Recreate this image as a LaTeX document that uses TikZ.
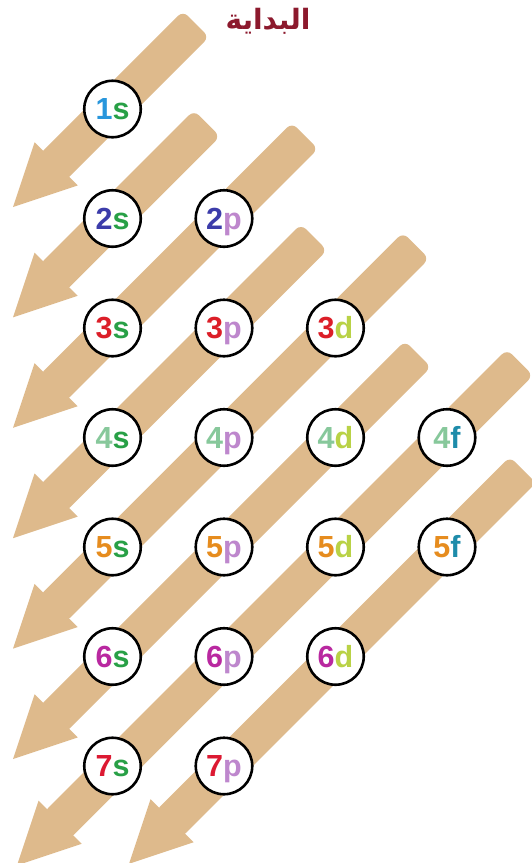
\documentclass[tikz,border=0pt]{standalone}
\usepackage{fontspec}
\setmainfont{Liberation Sans}
\newfontfamily\arabicfont[Script=Arabic]{DejaVu Sans}
\TeXXeTstate=1
\definecolor{band}{RGB}{222,186,140}
\definecolor{titlecol}{RGB}{140,25,45}
\definecolor{cone}{RGB}{40,150,220}
\definecolor{cs}{RGB}{40,160,70}
\definecolor{ctwo}{RGB}{60,60,170}
\definecolor{cp}{RGB}{190,135,205}
\definecolor{cthree}{RGB}{220,30,40}
\definecolor{cd}{RGB}{185,210,70}
\definecolor{cfour}{RGB}{135,200,155}
\definecolor{cf}{RGB}{30,140,170}
\definecolor{cfive}{RGB}{230,140,30}
\definecolor{csix}{RGB}{185,40,160}
\definecolor{cseven}{RGB}{220,25,50}
\tikzset{
  orb/.style={circle,draw=black,line width=2.6pt,fill=white,minimum size=56.5pt,
    inner sep=0pt,text height=21.5pt,text depth=0pt,
    font=\fontsize{30.5}{30.5}\selectfont\bfseries},
  bandfill/.style={fill=band}
}
% #1 line sum (x+y), #2 tip x, #3 tail x
\newcommand{\bandarrow}[3]{%
  \pgfmathsetmacro\tipy{#1-#2}%
  \pgfmathsetmacro\blen{(#3-#2)*1.41421356}%
  \begin{scope}[shift={(#2,\tipy)},rotate=45]
    \fill[bandfill] (0,0) -- (61,30.5) -- (61,-30.5) -- cycle;
    \fill[bandfill,rounded corners=7pt] (55,-18.5) rectangle (\blen,18.5);
  \end{scope}}
\begin{document}
\begin{tikzpicture}[x=1pt,y=-1pt]
\useasboundingbox (0,0) rectangle (532,863);
\clip (0,0) rectangle (532,863);
\fill[white] (0,0) rectangle (532,863);
% arrows
\bandarrow{220}{13}{196}
\bandarrow{330.4}{13}{207}
\bandarrow{440.8}{13}{305}
\bandarrow{551.2}{13}{314}
\bandarrow{661.6}{13}{416}
\bandarrow{772}{13}{418}
\bandarrow{882.4}{17}{520}
\bandarrow{992.8}{129}{523}
% title
\node (title) [text=titlecol,font=\arabicfont\bfseries\fontsize{28}{28}\selectfont] at (268,21) {\beginR البداية\endR};
% orbitals
\node[orb] (o1s) at (112.5,109) {\textcolor{cone}{1}\textcolor{cs}{s}};
\node[orb] (o2s) at (112.5,218.5) {\textcolor{ctwo}{2}\textcolor{cs}{s}};
\node[orb] (o2p) at (224,218.5) {\textcolor{ctwo}{2}\textcolor{cp}{p}};
\node[orb] (o3s) at (112.5,328) {\textcolor{cthree}{3}\textcolor{cs}{s}};
\node[orb] (o3p) at (224,328) {\textcolor{cthree}{3}\textcolor{cp}{p}};
\node[orb] (o3d) at (335.5,328) {\textcolor{cthree}{3}\textcolor{cd}{d}};
\node[orb] (o4s) at (112.5,437.5) {\textcolor{cfour}{4}\textcolor{cs}{s}};
\node[orb] (o4p) at (224,437.5) {\textcolor{cfour}{4}\textcolor{cp}{p}};
\node[orb] (o4d) at (335.5,437.5) {\textcolor{cfour}{4}\textcolor{cd}{d}};
\node[orb] (o4f) at (447,437.5) {\textcolor{cfour}{4}\textcolor{cf}{f}};
\node[orb] (o5s) at (112.5,547) {\textcolor{cfive}{5}\textcolor{cs}{s}};
\node[orb] (o5p) at (224,547) {\textcolor{cfive}{5}\textcolor{cp}{p}};
\node[orb] (o5d) at (335.5,547) {\textcolor{cfive}{5}\textcolor{cd}{d}};
\node[orb] (o5f) at (447,547) {\textcolor{cfive}{5}\textcolor{cf}{f}};
\node[orb] (o6s) at (112.5,656.5) {\textcolor{csix}{6}\textcolor{cs}{s}};
\node[orb] (o6p) at (224,656.5) {\textcolor{csix}{6}\textcolor{cp}{p}};
\node[orb] (o6d) at (335.5,656.5) {\textcolor{csix}{6}\textcolor{cd}{d}};
\node[orb] (o7s) at (112.5,766) {\textcolor{cseven}{7}\textcolor{cs}{s}};
\node[orb] (o7p) at (224,766) {\textcolor{cseven}{7}\textcolor{cp}{p}};
\end{tikzpicture}
\end{document}
